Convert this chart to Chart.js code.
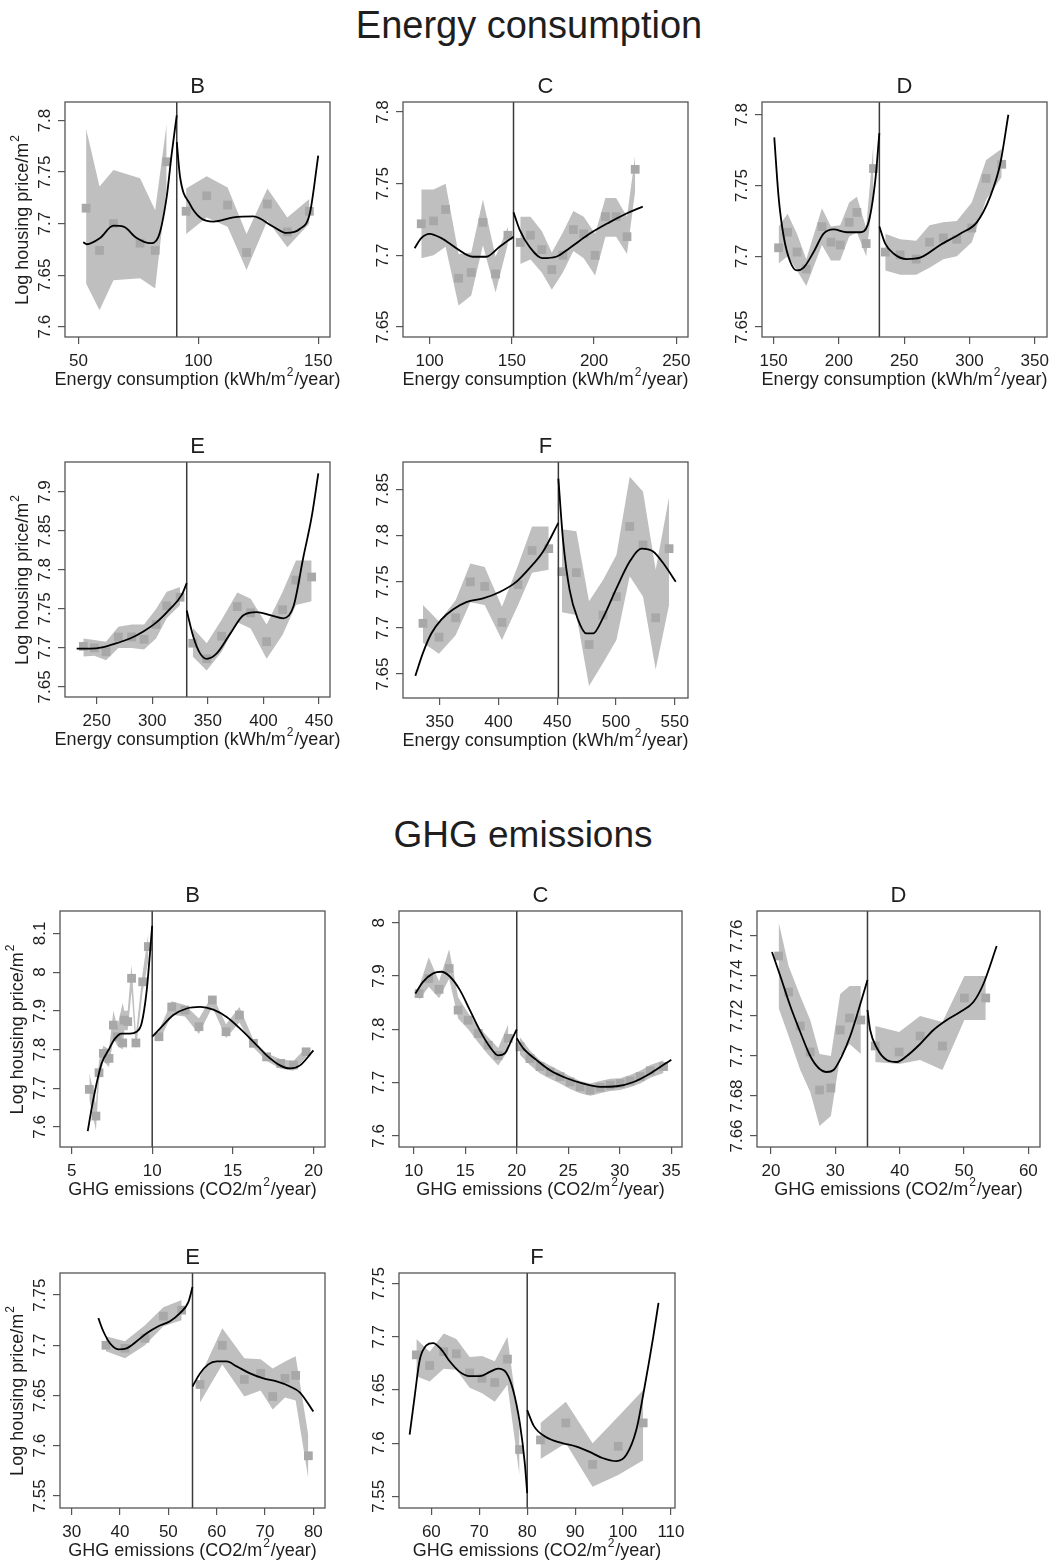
<!DOCTYPE html>
<html>
<head>
<meta charset="utf-8">
<script src="https://cdn.jsdelivr.net/npm/chart.js@4.4.1/dist/chart.umd.min.js"></script>
<style>
  body { margin: 0; background: #fff; width: 1055px; height: 1564px; position: relative; overflow: hidden;
         font-family: "Liberation Sans", Arial, sans-serif; color: #1e1e1e; }
  .head { position: absolute; width: 400px; text-align: center; line-height: 1; white-space: nowrap; }
  .panel { position: absolute; }
</style>
</head>
<body>
<div class="head" style="left:329px; top:6px; font-size:38px;">Energy consumption</div>
<div class="head" style="left:323px; top:816px; font-size:37px;">GHG emissions</div>

<script>
// ---------- Energy consumption, class B ----------
var enB_x  = [53.2, 58.8, 64.6, 75.7, 82.0, 86.8, 94.9, 103.5, 112.2, 120.1, 128.8, 137.1, 146.3];
var enB_y  = [7.715, 7.674, 7.700, 7.681, 7.674, 7.760, 7.712, 7.727, 7.718, 7.672, 7.719, 7.692, 7.712];
var enB_hi = [7.792, 7.736, 7.752, 7.744, 7.713, 7.797, 7.734, 7.746, 7.735, 7.690, 7.734, 7.706, 7.724];
var enB_lo = [7.642, 7.616, 7.645, 7.647, 7.637, 7.735, 7.690, 7.706, 7.697, 7.655, 7.703, 7.677, 7.700];
// fitted curve: null separates the part left of the class threshold from the right part
var enB_fx = [52, 53.5, 59, 64.6, 68.8, 74.3, 79.9, 83.3, 86.8, 88.9, 91, null, 91, 92.4, 96.5, 100.7, 106.3, 114.6, 122.9, 131.3, 136.8, 142.4, 146.5, 150];
var enB_fy = [7.682, 7.680, 7.686, 7.698, 7.697, 7.686, 7.681, 7.687, 7.726, 7.768, 7.805, null, 7.779, 7.745, 7.719, 7.706, 7.702, 7.706, 7.707, 7.697, 7.691, 7.695, 7.710, 7.766];

// ---------- Energy consumption, class C ----------
var enC_x  = [94.9, 102.4, 109.7, 117.6, 125.3, 132.4, 140.1, 147.6, 155.1, 161.3, 168.2, 174.3, 181.0, 187.4, 193.7, 200.6, 206.9, 213.4, 220.0, 225.0];
var enC_y  = [7.722, 7.724, 7.732, 7.684, 7.688, 7.723, 7.687, 7.714, 7.709, 7.714, 7.704, 7.690, 7.700, 7.718, 7.715, 7.700, 7.727, 7.727, 7.713, 7.760];
var enC_hi = [7.746, 7.746, 7.750, 7.701, 7.702, 7.739, 7.699, 7.720, 7.727, 7.727, 7.717, 7.702, 7.716, 7.731, 7.727, 7.715, 7.740, 7.740, 7.727, 7.770];
var enC_lo = [7.698, 7.700, 7.706, 7.665, 7.672, 7.707, 7.674, 7.708, 7.694, 7.697, 7.688, 7.676, 7.688, 7.703, 7.698, 7.686, 7.713, 7.713, 7.701, 7.745];
var enC_fx = [90.9, 94.9, 100, 107.1, 116.2, 126.3, 134.4, 142.5, 151, null, 151, 154.7, 160.7, 168.8, 176.9, 185, 197.2, 209.3, 219.4, 229.6];
var enC_fy = [7.705, 7.712, 7.715, 7.712, 7.705, 7.699, 7.699, 7.706, 7.713, null, 7.730, 7.718, 7.706, 7.698, 7.699, 7.705, 7.715, 7.723, 7.729, 7.734];

// ---------- Energy consumption, class D ----------
var enD_x  = [153.8, 160.7, 167.9, 175.0, 187.0, 193.9, 201.0, 207.9, 213.8, 220.9, 226.5, 235.5, 246.9, 259.2, 269.4, 280.0, 290.3, 301.8, 312.8, 324.7];
var enD_y  = [7.706, 7.717, 7.703, 7.691, 7.721, 7.710, 7.708, 7.724, 7.731, 7.709, 7.762, 7.703, 7.701, 7.698, 7.710, 7.713, 7.712, 7.720, 7.755, 7.765];
var enD_hi = [7.721, 7.730, 7.716, 7.698, 7.734, 7.721, 7.722, 7.738, 7.742, 7.720, 7.780, 7.716, 7.712, 7.711, 7.722, 7.724, 7.725, 7.738, 7.768, 7.776];
var enD_lo = [7.695, 7.700, 7.690, 7.679, 7.708, 7.697, 7.697, 7.714, 7.717, 7.700, 7.745, 7.690, 7.687, 7.687, 7.692, 7.698, 7.700, 7.710, 7.740, 7.756];
var enD_fx = [150.5, 153.8, 157.7, 162.8, 167.9, 173, 180.6, 188.3, 195.9, 206.1, 216.3, 222, 227.8, 231, null, 231, 235.5, 241.8, 252, 262.2, 277.6, 292.9, 305.6, 315.8, 323.5, 329.8];
var enD_fy = [7.784, 7.742, 7.714, 7.696, 7.690, 7.692, 7.703, 7.716, 7.719, 7.717, 7.717, 7.722, 7.753, 7.787, null, 7.721, 7.709, 7.702, 7.698, 7.699, 7.708, 7.716, 7.724, 7.742, 7.765, 7.800];

// ---------- Energy consumption, class E ----------
var enE_x  = [238, 248, 258.4, 269.5, 281.5, 292.6, 303.4, 313, 325, 336.4, 349, 362.4, 376.5, 388.5, 402.9, 417.3, 429.3, 443.4];
var enE_y  = [7.702, 7.700, 7.695, 7.714, 7.714, 7.711, 7.730, 7.754, 7.765, 7.706, 7.686, 7.715, 7.753, 7.745, 7.708, 7.749, 7.787, 7.791];
var enE_hi = [7.712, 7.710, 7.708, 7.727, 7.730, 7.730, 7.750, 7.772, 7.778, 7.726, 7.706, 7.736, 7.771, 7.763, 7.730, 7.772, 7.812, 7.812];
var enE_lo = [7.689, 7.690, 7.684, 7.700, 7.700, 7.698, 7.712, 7.738, 7.755, 7.689, 7.671, 7.695, 7.733, 7.725, 7.686, 7.717, 7.755, 7.760];
var enE_fx = [232, 244, 256, 268, 280, 292, 304, 316, 326.5, 331, null, 331, 337, 343, 349, 358, 370, 382, 394, 406, 418, 427, 436, 443.4, 449.4];
var enE_fy = [7.699, 7.699, 7.701, 7.706, 7.712, 7.721, 7.733, 7.750, 7.768, 7.783, null, 7.748, 7.714, 7.693, 7.686, 7.693, 7.718, 7.742, 7.746, 7.742, 7.738, 7.753, 7.817, 7.868, 7.924];

// ---------- Energy consumption, class F ----------
var enF_x  = [335.8, 349.4, 363.6, 376.1, 388.3, 403, 416.7, 428.6, 442.8, 454.1, 466.3, 477.1, 489, 500.4, 511.7, 523, 533.8, 545.2];
var enF_y  = [7.705, 7.690, 7.711, 7.750, 7.745, 7.706, 7.747, 7.784, 7.786, 7.761, 7.760, 7.682, 7.714, 7.734, 7.810, 7.790, 7.711, 7.786];
var enF_hi = [7.725, 7.707, 7.730, 7.770, 7.766, 7.723, 7.768, 7.810, 7.810, 7.807, 7.805, 7.729, 7.752, 7.779, 7.864, 7.848, 7.763, 7.842];
var enF_lo = [7.684, 7.672, 7.692, 7.728, 7.725, 7.687, 7.725, 7.760, 7.763, 7.717, 7.714, 7.637, 7.662, 7.687, 7.756, 7.734, 7.655, 7.725];
var enF_fx = [329.3, 335.8, 342.9, 351.4, 361.3, 372.7, 386.9, 401.1, 415.2, 426.6, 438, 451, null, 451, 455, 460.6, 467.7, 474.8, 480.5, 489, 500.4, 511.7, 521.6, 531.6, 541.5, 550.9];
var enF_fy = [7.648, 7.673, 7.694, 7.709, 7.720, 7.728, 7.732, 7.739, 7.750, 7.765, 7.783, 7.814, null, 7.862, 7.795, 7.741, 7.709, 7.694, 7.694, 7.711, 7.743, 7.772, 7.786, 7.783, 7.768, 7.750];

// ---------- GHG emissions, class B ----------
var ghB_x  = [6.10, 6.51, 6.70, 6.97, 7.32, 7.59, 7.83, 8.17, 8.27, 8.48, 8.72, 8.99, 9.41, 9.76, 10.42, 11.21, 12.03, 12.90, 13.73, 14.58, 15.41, 16.28, 17.10, 17.97, 18.76, 19.55];
var ghB_y  = [7.697, 7.628, 7.740, 7.790, 7.777, 7.863, 7.833, 7.817, 7.876, 7.872, 7.984, 7.817, 7.975, 8.066, 7.833, 7.910, 7.902, 7.859, 7.928, 7.846, 7.889, 7.816, 7.781, 7.764, 7.760, 7.794];
var ghB_hi = [7.740, 7.660, 7.770, 7.810, 7.800, 7.900, 7.860, 7.920, 7.900, 7.900, 8.020, 7.840, 8.000, 8.100, 7.850, 7.925, 7.915, 7.880, 7.940, 7.865, 7.910, 7.825, 7.790, 7.775, 7.770, 7.805];
var ghB_lo = [7.670, 7.590, 7.720, 7.770, 7.755, 7.830, 7.810, 7.800, 7.850, 7.850, 7.950, 7.800, 7.950, 8.030, 7.820, 7.890, 7.885, 7.840, 7.910, 7.830, 7.870, 7.805, 7.770, 7.750, 7.745, 7.780];
var ghB_fx = [6.0, 6.24, 6.55, 6.86, 7.28, 7.69, 8.1, 8.62, 9.03, 9.34, 9.66, 9.86, 10, null, 10, 10.48, 11.31, 12.14, 12.97, 13.79, 14.62, 15.45, 16.28, 17.1, 17.93, 18.55, 19.17, 20];
var ghB_fy = [7.589, 7.647, 7.712, 7.764, 7.798, 7.828, 7.841, 7.841, 7.846, 7.867, 7.953, 8.048, 8.120, null, 7.833, 7.854, 7.889, 7.906, 7.910, 7.903, 7.884, 7.854, 7.820, 7.785, 7.759, 7.751, 7.759, 7.798];

// ---------- GHG emissions, class C ----------
var ghC_x  = [10.52, 11.46, 12.46, 13.44, 14.31, 15.29, 16.26, 17.23, 18.2, 19.18, 20.31, 21.28, 22.26, 23.23, 24.2, 25.18, 26.15, 27.12, 28.09, 29.07, 30.04, 31.0, 31.98, 32.96, 34.25];
var ghC_y  = [7.867, 7.895, 7.875, 7.914, 7.836, 7.817, 7.792, 7.770, 7.751, 7.783, 7.767, 7.745, 7.730, 7.720, 7.711, 7.701, 7.692, 7.686, 7.691, 7.695, 7.698, 7.703, 7.711, 7.722, 7.730];
var ghC_hi = [7.880, 7.935, 7.890, 7.950, 7.860, 7.830, 7.805, 7.785, 7.765, 7.810, 7.785, 7.760, 7.742, 7.732, 7.722, 7.712, 7.703, 7.698, 7.703, 7.707, 7.708, 7.714, 7.722, 7.733, 7.742];
var ghC_lo = [7.855, 7.880, 7.858, 7.895, 7.820, 7.800, 7.775, 7.752, 7.732, 7.760, 7.752, 7.733, 7.717, 7.707, 7.698, 7.688, 7.680, 7.675, 7.680, 7.684, 7.686, 7.691, 7.698, 7.709, 7.718];
var ghC_fx = [10.16, 10.9, 11.88, 12.69, 13.5, 14.47, 15.45, 16.42, 17.39, 18.2, 18.85, 19.5, 20, null, 20, 20.64, 21.93, 23.23, 24.85, 26.47, 28.09, 29.71, 31.34, 32.96, 35];
var ghC_fy = [7.867, 7.889, 7.905, 7.908, 7.899, 7.874, 7.836, 7.798, 7.767, 7.751, 7.755, 7.780, 7.800, null, 7.783, 7.764, 7.742, 7.723, 7.708, 7.698, 7.692, 7.693, 7.701, 7.717, 7.743];

// ---------- GHG emissions, class D ----------
var ghD_x  = [21.19, 22.74, 24.55, 26.1, 27.55, 29.31, 30.76, 32.21, 33.97, 36.2, 39.92, 43.18, 46.65, 50.06, 53.38];
var ghD_y  = [7.750, 7.732, 7.715, 7.702, 7.683, 7.684, 7.713, 7.719, 7.718, 7.705, 7.702, 7.710, 7.705, 7.729, 7.729];
var ghD_hi = [7.767, 7.745, 7.730, 7.718, 7.701, 7.700, 7.731, 7.735, 7.735, 7.715, 7.712, 7.720, 7.717, 7.740, 7.740];
var ghD_lo = [7.724, 7.710, 7.693, 7.682, 7.665, 7.670, 7.700, 7.706, 7.701, 7.697, 7.696, 7.698, 7.693, 7.718, 7.718];
var ghD_fx = [20.16, 21.45, 23.0, 24.55, 26.1, 27.4, 28.69, 29.73, 31.02, 32.32, 33.61, 35, null, 35, 35.42, 36.46, 38.0, 39.56, 41.11, 43.18, 45.25, 47.32, 49.39, 51.46, 53.01, 55.08];
var ghD_fy = [7.752, 7.740, 7.725, 7.712, 7.700, 7.694, 7.692, 7.693, 7.700, 7.710, 7.723, 7.738, null, 7.723, 7.713, 7.704, 7.698, 7.697, 7.700, 7.706, 7.713, 7.718, 7.722, 7.727, 7.736, 7.755];

// ---------- GHG emissions, class E ----------
var ghE_x  = [37.1, 41.03, 45.17, 48.97, 52.76, 56.55, 61.17, 65.72, 69.1, 71.59, 74.14, 76.34, 78.97];
var ghE_y  = [7.700, 7.697, 7.707, 7.729, 7.735, 7.661, 7.700, 7.666, 7.672, 7.649, 7.667, 7.670, 7.590];
var ghE_hi = [7.709, 7.704, 7.720, 7.738, 7.745, 7.669, 7.717, 7.687, 7.686, 7.677, 7.684, 7.689, 7.610];
var ghE_lo = [7.694, 7.687, 7.700, 7.719, 7.725, 7.643, 7.681, 7.649, 7.655, 7.636, 7.648, 7.645, 7.567];
var ghE_fx = [35.52, 36.55, 37.93, 39.66, 41.38, 43.45, 45.52, 47.93, 50.34, 52.41, 54.14, 55, null, 55, 56.55, 58.28, 60.0, 62.07, 64.14, 66.9, 69.66, 72.41, 75.17, 77.24, 80.0];
var ghE_fy = [7.727, 7.714, 7.702, 7.696, 7.697, 7.704, 7.712, 7.719, 7.724, 7.732, 7.743, 7.758, null, 7.659, 7.672, 7.681, 7.684, 7.684, 7.679, 7.672, 7.667, 7.664, 7.659, 7.653, 7.634];

// ---------- GHG emissions, class F ----------
var ghF_x  = [56.87, 59.65, 62.58, 65.22, 68.0, 70.58, 73.23, 75.88, 78.4, 82.77, 88.06, 93.64, 99.0, 104.2];
var ghF_y  = [7.683, 7.673, 7.686, 7.684, 7.666, 7.661, 7.657, 7.679, 7.594, 7.603, 7.619, 7.580, 7.597, 7.619];
var ghF_hi = [7.698, 7.686, 7.703, 7.698, 7.681, 7.682, 7.677, 7.700, 7.613, 7.619, 7.639, 7.600, 7.625, 7.650];
var ghF_lo = [7.663, 7.658, 7.670, 7.669, 7.652, 7.647, 7.639, 7.655, 7.569, 7.585, 7.600, 7.559, 7.570, 7.584];
var ghF_fx = [55.47, 56.52, 57.56, 58.96, 60.35, 62.09, 63.83, 65.92, 68.0, 70.1, 72.19, 73.93, 75.67, 77.06, 78.45, 79.5, 80, null, 80, 81.4, 83.8, 87.3, 90.1, 92.9, 95.7, 98.6, 100.7, 102.8, 104.5, 106.3, 107.4];
var ghF_fy = [7.608, 7.644, 7.678, 7.692, 7.694, 7.688, 7.677, 7.667, 7.663, 7.663, 7.667, 7.670, 7.666, 7.650, 7.619, 7.581, 7.553, null, 7.631, 7.616, 7.606, 7.600, 7.597, 7.592, 7.586, 7.583, 7.589, 7.613, 7.653, 7.700, 7.732];

// class thresholds (vertical lines)
var enThresholds = [91, 151, 231, 331, 451];
var ghThresholds = [10, 20, 35, 55, 80];

// tick labels
var enB_xt = [50, 100, 150],            enB_yt = [7.6, 7.65, 7.7, 7.75, 7.8];
var enC_xt = [100, 150, 200, 250],      enC_yt = [7.65, 7.7, 7.75, 7.8];
var enD_xt = [150, 200, 250, 300, 350], enD_yt = [7.65, 7.7, 7.75, 7.8];
var enE_xt = [250, 300, 350, 400, 450], enE_yt = [7.65, 7.7, 7.75, 7.8, 7.85, 7.9];
var enF_xt = [350, 400, 450, 500, 550], enF_yt = [7.65, 7.7, 7.75, 7.8, 7.85];
var ghB_xt = [5, 10, 15, 20],              ghB_yt = [7.6, 7.7, 7.8, 7.9, 8, 8.1];
var ghC_xt = [10, 15, 20, 25, 30, 35],     ghC_yt = [7.6, 7.7, 7.8, 7.9, 8];
var ghD_xt = [20, 30, 40, 50, 60],         ghD_yt = [7.66, 7.68, 7.7, 7.72, 7.74, 7.76];
var ghE_xt = [30, 40, 50, 60, 70, 80],     ghE_yt = [7.55, 7.6, 7.65, 7.7, 7.75];
var ghF_xt = [60, 70, 80, 90, 100, 110],   ghF_yt = [7.55, 7.6, 7.65, 7.7, 7.75];

var enXLabel = 'Energy consumption (kWh/m^2/year)';
var ghXLabel = 'GHG emissions (CO2/m^2/year)';
var yLabel = 'Log housing price/m^2';

var FONT = '"Liberation Sans", Arial, sans-serif';
var BAND = '#bfbfbf', PTS = '#a8a8a8', INK = '#1e1e1e';

// box = [left, top, right, bottom] of the plot region on the page
var panels = [
  { letter: 'B', box: [65, 102, 330, 337],  xr: [44.4, 154.9], yr: [7.590, 7.818], thr: enThresholds[0], x: enB_x, y: enB_y, hi: enB_hi, lo: enB_lo, fx: enB_fx, fy: enB_fy, xt: enB_xt, yt: enB_yt, xl: enXLabel, yl: true },
  { letter: 'C', box: [403, 102, 688, 337], xr: [83.8, 257.1], yr: [7.643, 7.807], thr: enThresholds[1], x: enC_x, y: enC_y, hi: enC_hi, lo: enC_lo, fx: enC_fx, fy: enC_fy, xt: enC_xt, yt: enC_yt, xl: enXLabel, yl: false },
  { letter: 'D', box: [762, 102, 1047, 337], xr: [141.1, 359.4], yr: [7.643, 7.809], thr: enThresholds[2], x: enD_x, y: enD_y, hi: enD_hi, lo: enD_lo, fx: enD_fx, fy: enD_fy, xt: enD_xt, yt: enD_yt, xl: enXLabel, yl: false },
  { letter: 'E', box: [65, 462, 330, 697],  xr: [221.5, 459.9], yr: [7.637, 7.9385], thr: enThresholds[3], x: enE_x, y: enE_y, hi: enE_hi, lo: enE_lo, fx: enE_fx, fy: enE_fy, xt: enE_xt, yt: enE_yt, xl: enXLabel, yl: true },
  { letter: 'F', box: [403, 462, 688, 698], xr: [318.8, 561.3], yr: [7.624, 7.880], thr: enThresholds[4], x: enF_x, y: enF_y, hi: enF_hi, lo: enF_lo, fx: enF_fx, fy: enF_fy, xt: enF_xt, yt: enF_yt, xl: enXLabel, yl: false },
  { letter: 'B', box: [60, 911, 325, 1147],  xr: [4.28, 20.72], yr: [7.548, 8.158], thr: ghThresholds[0], x: ghB_x, y: ghB_y, hi: ghB_hi, lo: ghB_lo, fx: ghB_fx, fy: ghB_fy, xt: ghB_xt, yt: ghB_yt, xl: ghXLabel, yl: true },
  { letter: 'C', box: [399, 911, 682, 1147], xr: [8.57, 36.04], yr: [7.579, 8.022], thr: ghThresholds[1], x: ghC_x, y: ghC_y, hi: ghC_hi, lo: ghC_lo, fx: ghC_fx, fy: ghC_fy, xt: ghC_xt, yt: ghC_yt, xl: ghXLabel, yl: false },
  { letter: 'D', box: [757, 911, 1040, 1147], xr: [17.83, 61.81], yr: [7.6545, 7.7725], thr: ghThresholds[2], x: ghD_x, y: ghD_y, hi: ghD_hi, lo: ghD_lo, fx: ghD_fx, fy: ghD_fy, xt: ghD_xt, yt: ghD_yt, xl: ghXLabel, yl: false },
  { letter: 'E', box: [60, 1273, 325, 1508],  xr: [27.59, 82.41], yr: [7.538, 7.772], thr: ghThresholds[3], x: ghE_x, y: ghE_y, hi: ghE_hi, lo: ghE_lo, fx: ghE_fx, fy: ghE_fy, xt: ghE_xt, yt: ghE_yt, xl: ghXLabel, yl: true },
  { letter: 'F', box: [399, 1273, 675, 1508], xr: [53.25, 110.84], yr: [7.539, 7.760], thr: ghThresholds[4], x: ghF_x, y: ghF_y, hi: ghF_hi, lo: ghF_lo, fx: ghF_fx, fy: ghF_fy, xt: ghF_xt, yt: ghF_yt, xl: ghXLabel, yl: false }
];

function toPoints(xs, ys) {
  return xs.map(function (x, i) { return { x: x, y: ys[i] }; });
}

// draws "text^2text" with a raised small 2, centred on (cx, baseline)
function drawSupLabel(ctx, label, cx, base, size) {
  var parts = label.split('^2');
  var big = size + 'px ' + FONT, small = Math.round(size * 0.68) + 'px ' + FONT;
  ctx.font = big;
  var w1 = ctx.measureText(parts[0]).width, w3 = ctx.measureText(parts[1]).width;
  ctx.font = small;
  var w2 = ctx.measureText('2').width + 2;
  var x0 = cx - (w1 + w2 + w3) / 2;
  ctx.textAlign = 'left';
  ctx.textBaseline = 'alphabetic';
  ctx.font = big;
  ctx.fillText(parts[0], x0, base);
  ctx.font = small;
  ctx.fillText('2', x0 + w1 + 1, base - size * 0.5);
  ctx.font = big;
  ctx.fillText(parts[1], x0 + w1 + w2, base);
}

function decorPlugin(p) {
  return {
    id: 'decor',
    afterDraw: function (chart) {
      var ctx = chart.ctx, a = chart.chartArea;
      var xs = chart.scales.x, ys = chart.scales.y;
      ctx.save();
      ctx.strokeStyle = '#555';
      ctx.lineWidth = 1.3;
      ctx.strokeRect(a.left, a.top, a.right - a.left, a.bottom - a.top);

      ctx.fillStyle = INK;
      ctx.font = '17px ' + FONT;
      ctx.textAlign = 'center';
      ctx.textBaseline = 'alphabetic';
      p.xt.forEach(function (v) {
        ctx.fillText(String(v), xs.getPixelForValue(v), a.bottom + 29);
      });
      p.yt.forEach(function (v) {
        ctx.save();
        ctx.translate(a.left - 15, ys.getPixelForValue(v));
        ctx.rotate(-Math.PI / 2);
        ctx.fillText(String(v), 0, 0);
        ctx.restore();
      });

      drawSupLabel(ctx, p.xl, (a.left + a.right) / 2, a.bottom + 48, 18);
      if (p.yl) {
        ctx.save();
        ctx.translate(a.left - 37, (a.top + a.bottom) / 2);
        ctx.rotate(-Math.PI / 2);
        drawSupLabel(ctx, yLabel, 0, 0, 18);
        ctx.restore();
      }

      ctx.font = '22px ' + FONT;
      ctx.textAlign = 'center';
      ctx.fillText(p.letter, (a.left + a.right) / 2, a.top - 9);
      ctx.restore();
    }
  };
}

panels.forEach(function (p) {
  var b = p.box;
  var div = document.createElement('div');
  div.className = 'panel';
  div.style.left = (b[0] - 70) + 'px';
  div.style.top = (b[1] - 40) + 'px';
  var canvas = document.createElement('canvas');
  canvas.width = b[2] - b[0] + 80;
  canvas.height = b[3] - b[1] + 100;
  div.appendChild(canvas);
  document.body.appendChild(div);

  var cut = p.fy.indexOf(null);
  var fitL = toPoints(p.fx.slice(0, cut), p.fy.slice(0, cut));
  var fitR = toPoints(p.fx.slice(cut + 1), p.fy.slice(cut + 1));
  var left = p.x.map(function (v) { return v < p.thr; });
  function side(arr, wantLeft) {
    return toPoints(p.x, arr).filter(function (pt, i) { return left[i] === wantLeft; });
  }

  var line = { showLine: true, pointRadius: 0, borderColor: '#000', borderWidth: 1.8,
               cubicInterpolationMode: 'monotone', fill: false };
  var band = { showLine: true, pointRadius: 0, borderWidth: 0, borderColor: BAND,
               backgroundColor: BAND, tension: 0 };

  new Chart(canvas.getContext('2d'), {
    type: 'scatter',
    data: {
      datasets: [
        Object.assign({ data: fitL }, line),
        Object.assign({ data: fitR }, line),
        { data: [{ x: p.thr, y: p.yr[0] }, { x: p.thr, y: p.yr[1] }], showLine: true,
          pointRadius: 0, borderColor: '#3a3a3a', borderWidth: 1.5, fill: false },
        { data: toPoints(p.x, p.y), pointStyle: 'rect', pointRadius: 6.2,
          backgroundColor: PTS, borderWidth: 0, showLine: false },
        Object.assign({ data: side(p.hi, true), fill: '+1' }, band),
        Object.assign({ data: side(p.lo, true), fill: false }, band),
        Object.assign({ data: side(p.hi, false), fill: '+1' }, band),
        Object.assign({ data: side(p.lo, false), fill: false }, band)
      ]
    },
    options: {
      responsive: false,
      animation: false,
      events: [],
      layout: { padding: { left: 0, top: 40, right: 10, bottom: 0 } },
      plugins: { legend: { display: false }, tooltip: { enabled: false } },
      scales: {
        x: {
          type: 'linear', min: p.xr[0], max: p.xr[1],
          afterBuildTicks: function (s) { s.ticks = p.xt.map(function (v) { return { value: v }; }); },
          afterFit: function (s) { s.height = 60; },
          ticks: { display: false },
          border: { display: false },
          grid: { drawOnChartArea: false, drawTicks: true, tickLength: 7, color: '#555', lineWidth: 1.2 }
        },
        y: {
          type: 'linear', min: p.yr[0], max: p.yr[1],
          afterBuildTicks: function (s) { s.ticks = p.yt.map(function (v) { return { value: v }; }); },
          afterFit: function (s) { s.width = 70; },
          ticks: { display: false },
          border: { display: false },
          grid: { drawOnChartArea: false, drawTicks: true, tickLength: 7, color: '#555', lineWidth: 1.2 }
        }
      }
    },
    plugins: [decorPlugin(p)]
  });
});
</script>
</body>
</html>
